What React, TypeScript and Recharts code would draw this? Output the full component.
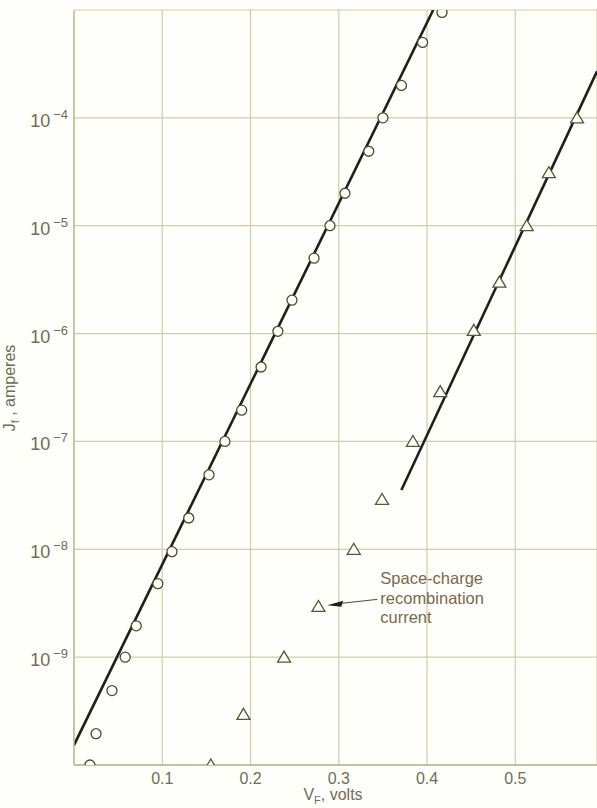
import React from 'react';
import {
  ComposedChart,
  Line,
  Scatter,
  XAxis,
  YAxis,
  CartesianGrid,
  ReferenceDot,
  Label,
} from 'recharts';

// forward voltage (V) and current (A)
const diffusionV = [0.018, 0.025, 0.043, 0.058, 0.0705, 0.095, 0.111, 0.13, 0.153, 0.171, 0.19, 0.212, 0.231, 0.247, 0.272, 0.29, 0.307, 0.334, 0.35, 0.371, 0.395, 0.417];
const diffusionJ = [1e-10, 1.95e-10, 4.9e-10, 1e-9, 1.95e-9, 4.8e-9, 9.5e-9, 1.95e-8, 4.9e-8, 1e-7, 1.95e-7, 4.9e-7, 1.05e-6, 2.04e-6, 5e-6, 1e-5, 2e-5, 4.9e-5, 1e-4, 2e-4, 5e-4, 9.5e-4];

const recombV = [0.155, 0.192, 0.238, 0.277, 0.317, 0.349, 0.384, 0.415, 0.453, 0.482, 0.513, 0.538, 0.57];
const recombJ = [1e-10, 2.95e-10, 1e-9, 2.95e-9, 1e-8, 2.9e-8, 1e-7, 2.9e-7, 1.07e-6, 3e-6, 1e-5, 3.1e-5, 1e-4];

// straight fitted lines (end points)
const diffusionFitV = [0, 0.407];
const diffusionFitJ = [1.53e-10, 1e-3];
const recombFitV = [0.371, 0.5926];
const recombFitJ = [3.55e-8, 2.7e-4];

const xTicks = [0.1, 0.2, 0.3, 0.4, 0.5];
const yTicks = [1e-10, 1e-9, 1e-8, 1e-7, 1e-6, 1e-5, 1e-4, 1e-3];
const labeledExponents = [-9, -8, -7, -6, -5, -4];

const annotationLines = ['Space-charge', 'recombination', 'current'];
const annotationAt = { v: 0.287, j: 3.02e-9 };

const zip = (v: number[], j: number[]) => v.map((x, i) => ({ v: x, j: j[i] }));
const diffusionData = zip(diffusionV, diffusionJ);
const recombData = zip(recombV, recombJ);
const diffusionFit = zip(diffusionFitV, diffusionFitJ);
const recombFit = zip(recombFitV, recombFitJ);

const FONT = '"Liberation Sans", Arial, sans-serif';
const TICK_COLOR = '#6e6f52';

const XTick = ({ x, y, payload }: any) => (
  <text x={x} y={y + 11} textAnchor="middle" fontFamily={FONT} fontSize={16} fill={TICK_COLOR}>
    {payload.value.toFixed(1)}
  </text>
);

const YTick = ({ x, y, payload }: any) => {
  const exp = Math.round(Math.log10(payload.value));
  if (!labeledExponents.includes(exp)) return null;
  return (
    <text x={x + 2} y={y + 9} textAnchor="end" fontFamily={FONT} fill={TICK_COLOR}>
      <tspan fontSize={18}>10</tspan>
      <tspan fontSize={13} dx={3} dy={-8}>{'\u2212' + Math.abs(exp)}</tspan>
    </text>
  );
};

const OpenCircle = ({ cx, cy }: any) => (
  <circle cx={cx} cy={cy} r={5} fill="#fefefb" stroke="#4b4c33" strokeWidth={1.3} />
);

const OpenTriangle = ({ cx, cy }: any) => (
  <polygon
    points={`${cx - 6.5},${cy + 5} ${cx + 6.5},${cy + 5} ${cx},${cy - 6}`}
    fill="#fefefb"
    stroke="#55563b"
    strokeWidth={1.3}
    strokeLinejoin="miter"
  />
);

const Annotation = ({ cx, cy }: any) => (
  <g>
    <polygon points={`${cx},${cy} ${cx + 16},${cy - 4.5} ${cx + 14},${cy + 1.5}`} fill="#1e2018" />
    <line x1={cx + 14} y1={cy - 2} x2={cx + 50} y2={cy - 6} stroke="#4a4a35" strokeWidth={1} />
    <text x={cx + 53} y={cy - 21} fontFamily={FONT} fontSize={16.5} fill="#7b6a48">
      {annotationLines.map((t, i) => (
        <tspan key={t} x={cx + 53} dy={i === 0 ? 0 : 19.5}>{t}</tspan>
      ))}
    </text>
  </g>
);

const YTitle = ({ viewBox }: any) => {
  const cx = 15;
  const cy = viewBox.y + 378;
  return (
    <text x={cx} y={cy} transform={`rotate(-90 ${cx} ${cy})`} textAnchor="middle" fontFamily={FONT} fontSize={16} fill={TICK_COLOR}>
      J<tspan fontSize={11} dy={4}>f</tspan><tspan dy={-4}> , amperes</tspan>
    </text>
  );
};

const XTitle = ({ viewBox }: any) => {
  const x = viewBox.x + 259;
  const y = viewBox.y + 35;
  return (
    <text x={x} y={y} textAnchor="middle" fontFamily={FONT} fontSize={16} fill={TICK_COLOR}>
      V<tspan fontSize={11} dy={4}>F</tspan><tspan dy={-4}>, volts</tspan>
    </text>
  );
};

export default function App() {
  return (
    <div style={{ position: 'absolute', left: 0, top: 0, width: 597, height: 808, background: '#fefefb' }}>
      <ComposedChart width={597} height={808} margin={{ top: 10, right: 0, bottom: 0, left: 0 }}>
        <CartesianGrid stroke="#d4cca8" strokeWidth={1.2} />
        <XAxis
          type="number"
          dataKey="v"
          domain={[0, 0.5926]}
          ticks={xTicks}
          allowDataOverflow
          tickLine={false}
          axisLine={{ stroke: '#b9b68c', strokeWidth: 1.4 }}
          height={43}
          tick={<XTick />}
        >
          <Label content={<XTitle />} />
        </XAxis>
        <YAxis
          type="number"
          dataKey="j"
          scale="log"
          domain={[1e-10, 1e-3]}
          ticks={yTicks}
          allowDataOverflow
          tickLine={false}
          axisLine={{ stroke: '#c4bd8e', strokeWidth: 1.4 }}
          width={74}
          tick={<YTick />}
        >
          <Label content={<YTitle />} />
        </YAxis>
        <Line data={diffusionFit} dataKey="j" type="linear" stroke="#1d2117" strokeWidth={2.6} dot={false} isAnimationActive={false} />
        <Line data={recombFit} dataKey="j" type="linear" stroke="#1d2117" strokeWidth={2.6} dot={false} isAnimationActive={false} />
        <Scatter data={diffusionData} dataKey="j" shape={<OpenCircle />} isAnimationActive={false} />
        <Scatter data={recombData} dataKey="j" shape={<OpenTriangle />} isAnimationActive={false} />
        <ReferenceDot x={annotationAt.v} y={annotationAt.j} shape={<Annotation />} />
      </ComposedChart>
    </div>
  );
}
